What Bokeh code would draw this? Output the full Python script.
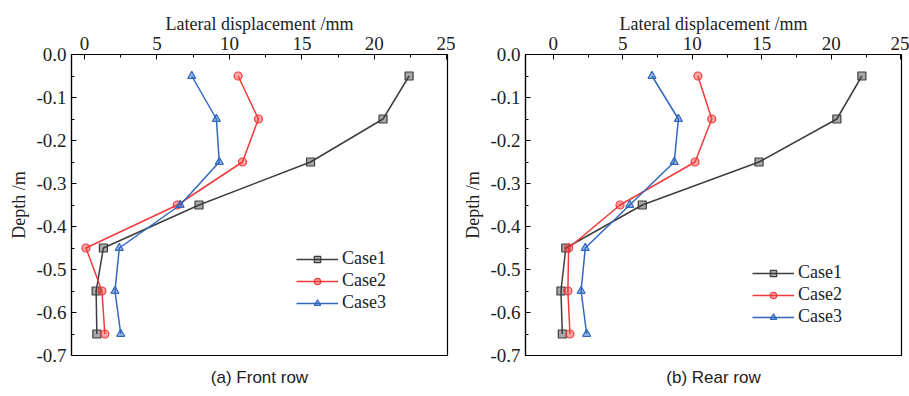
from bokeh.plotting import figure
from bokeh.layouts import row
from bokeh.models import Range1d, FixedTicker, Title, Legend, LegendItem, NumeralTickFormatter
from bokeh.embed import file_html
from bokeh.resources import INLINE

depth = [-0.05, -0.15, -0.25, -0.35, -0.45, -0.55, -0.65]

front_case1 = [22.4, 20.6, 15.6, 7.9, 1.3, 0.8, 0.85]
front_case2 = [10.6, 12.0, 10.9, 6.4, 0.1, 1.2, 1.4]
front_case3 = [7.4, 9.1, 9.3, 6.6, 2.4, 2.1, 2.5]

rear_case1 = [22.2, 20.4, 14.8, 6.4, 0.9, 0.55, 0.65]
rear_case2 = [10.4, 11.4, 10.2, 4.8, 1.1, 1.05, 1.2]
rear_case3 = [7.1, 9.0, 8.7, 5.5, 2.3, 2.0, 2.4]

series_names = ["Case1", "Case2", "Case3"]
x_ticks = [0, 5, 10, 15, 20, 25]
y_ticks = [0.0, -0.1, -0.2, -0.3, -0.4, -0.5, -0.6, -0.7]

colors = ["#3d3d3d", "#f23a3a", "#2f68bd"]
markers = ["square", "circle", "triangle"]
SERIF = "Liberation Serif"


def make_panel(caption, series, x_min, border_left, border_top, border_bottom, width, legend_loc):
    p = figure(width=width, height=396, output_backend="svg", toolbar_location=None,
               x_axis_location="above", x_range=Range1d(x_min, 25.05), y_range=Range1d(-0.7, 0.0),
               min_border_left=border_left, min_border_right=8, min_border_top=border_top,
               min_border_bottom=border_bottom)
    p.xgrid.visible = False
    p.ygrid.visible = False
    p.outline_line_color = "black"
    p.outline_line_width = 1.2
    p.background_fill_color = "white"
    p.border_fill_color = "white"

    for ax in (p.xaxis[0], p.yaxis[0]):
        ax.major_tick_in = 5
        ax.major_tick_out = 0
        ax.minor_tick_in = 3
        ax.minor_tick_out = 0
        ax.axis_line_color = "black"
        ax.axis_line_width = 1.2
        ax.major_label_text_font = SERIF
        ax.major_label_text_font_size = "19px"
        ax.major_label_text_color = "#222222"
        ax.axis_label_text_font = SERIF
        ax.axis_label_text_font_size = "18px"
        ax.axis_label_text_font_style = "normal"
        ax.axis_label_text_color = "#222222"

    p.xaxis[0].ticker = FixedTicker(ticks=x_ticks, minor_ticks=[2.5, 7.5, 12.5, 17.5, 22.5])
    p.yaxis[0].ticker = FixedTicker(ticks=y_ticks,
                                    minor_ticks=[-0.05, -0.15, -0.25, -0.35, -0.45, -0.55, -0.65])
    p.yaxis[0].formatter = NumeralTickFormatter(format="0.0")
    p.xaxis[0].axis_label = "Lateral displacement /mm"
    p.yaxis[0].axis_label = "Depth /m"
    p.xaxis[0].axis_label_standoff = 0
    p.xaxis[0].major_label_standoff = 5
    p.yaxis[0].axis_label_standoff = 4
    p.yaxis[0].major_label_standoff = 5

    items = []
    for name, xs, c, m in zip(series_names, series, colors, markers):
        ln = p.line(xs, depth, line_color=c, line_width=1.5)
        sc = p.scatter(xs, depth, marker=m, size=8, line_color=c, fill_color=c,
                       fill_alpha=0.45, line_width=1.2)
        items.append(LegendItem(label=name, renderers=[ln, sc]))

    leg = Legend(items=items, location=legend_loc, border_line_color=None,
                 background_fill_alpha=0.0, label_text_font=SERIF,
                 label_text_font_size="18px", label_text_color="#222222",
                 glyph_width=42, glyph_height=16, spacing=1, padding=4, margin=0,
                 label_standoff=4, label_height=20)
    p.add_layout(leg, "center")

    t = Title(text=caption, align="center", text_font="Liberation Sans",
              text_font_size="17px", text_font_style="normal", text_color="#222222",
              standoff=20)
    p.add_layout(t, "below")
    return p


left = make_panel("(a) Front row", [front_case1, front_case2, front_case3],
                  -0.9, 71, 51, 41, 455, (225, 42))
right = make_panel("(b) Rear row", [rear_case1, rear_case2, rear_case3],
                   -2.0, 70, 54, 40, 454, (227, 28))

layout = row(left, right)
open("out.html", "w").write(file_html(layout, INLINE))
